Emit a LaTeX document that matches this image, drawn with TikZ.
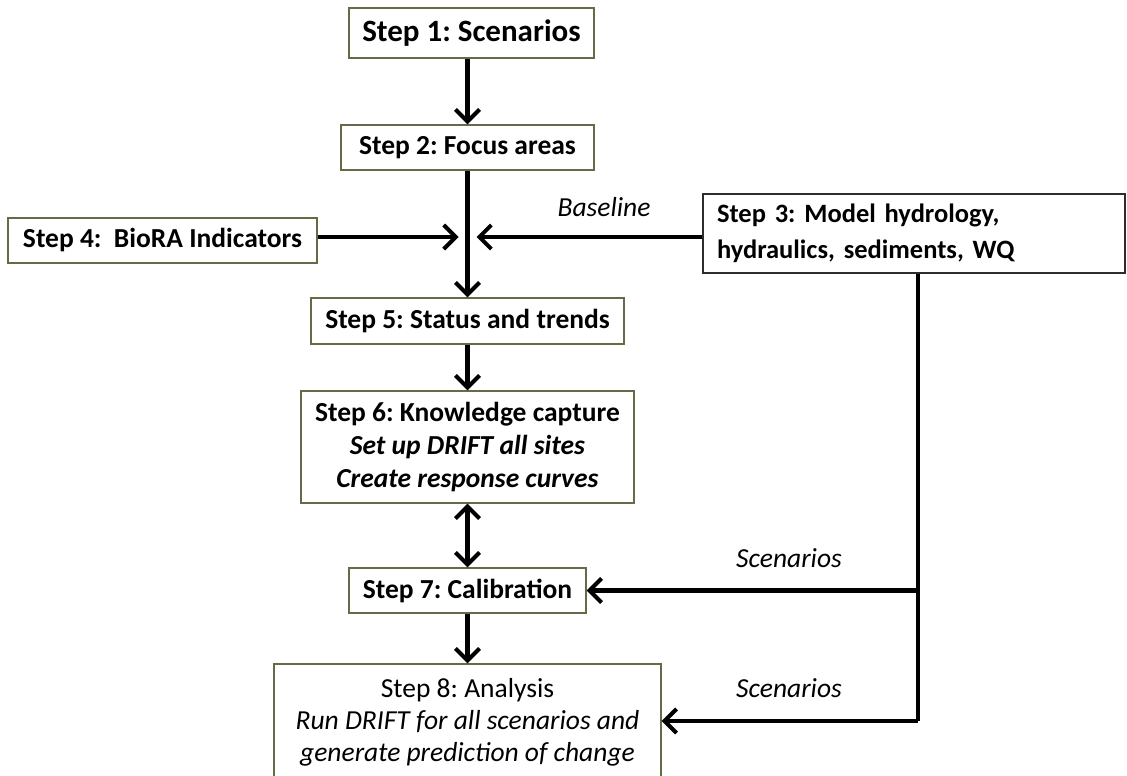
\documentclass[tikz,border=0pt]{standalone}
\usepackage{fontspec}
\setmainfont{Carlito}
\usetikzlibrary{arrows.meta}
\definecolor{boxline}{RGB}{98,108,70}
\definecolor{darkline}{RGB}{45,45,45}
\tikzset{
  stepbox/.style={draw=boxline, line width=1.4pt, fill=white, inner sep=0pt,
    align=center, font=\fontsize{27.5}{33}\selectfont},
  tip/.tip={Straight Barb[length=12pt,width=24pt,line width=4pt]},
  flow/.style={line width=4.5pt, -{tip}},
  twoway/.style={line width=4.5pt, {tip}-{tip}},
  feed/.style={line width=4.5pt, line join=miter},
  lbl/.style={font=\fontsize{27.5}{33}\selectfont\itshape, inner sep=0pt}
}
\frenchspacing
\begin{document}
\begin{tikzpicture}[x=1pt,y=-1pt]
\useasboundingbox (0,0) rectangle (1127,776);
% process boxes
\node[stepbox, font=\fontsize{31}{33}\selectfont, minimum width=245, minimum height=50] (s1) at (471.5,33) {\textbf{Step 1: Scenarios}};
\node[stepbox, minimum width=253, minimum height=45] (s2) at (467.5,147.5) {\textbf{Step 2: Focus areas}};
\node[stepbox, minimum width=309, minimum height=45] (s4) at (162.5,240.5) {\textbf{Step 4:\ \ BioRA Indicators}};
\node[stepbox, draw=darkline, font=\fontsize{26.5}{36}\selectfont, align=left, text width=394, inner xsep=14, minimum height=79] (s3) at (914,233.5)
  {\textbf{Step 3: Model hydrology,}\\\textbf{hydraulics, sediments, WQ}};
\node[stepbox, minimum width=313, minimum height=46] (s5) at (467.5,321) {\textbf{Step 5: Status and trends}};
\node[stepbox, minimum width=333, minimum height=112] (s6) at (467.5,447)
  {\textbf{Step 6: Knowledge capture}\\\textbf{\textit{Set up DRIFT all sites}}\\\textbf{\textit{Create response curves}}};
\node[stepbox, minimum width=237, minimum height=45] (s7) at (467.5,590.5) {\textbf{Step 7: Calibration}};
\node[stepbox, font=\fontsize{27.5}{32}\selectfont, minimum width=387, minimum height=116] (s8) at (467.5,722)
  {Step 8: Analysis\\\textit{Run DRIFT for all scenarios and}\\\textit{generate prediction of change}};
% junction where the inputs meet the main line
\coordinate (j) at (467.5,237);
\coordinate (c) at (918,721);
% connectors
\draw[flow] (s1.south -| s2.north) -- (s2.north);
\draw[flow] (s2.south) -- (s5.north);
\draw[flow] (s4.east |- j) -- ([xshift=-9]j);
\draw[flow] (s3.west |- j) -- ([xshift=9]j);
\draw[flow] (s5.south) -- (s6.north);
\draw[twoway] (s6.south) -- (s7.north);
\draw[flow] (s7.south) -- (s8.north);
\draw[feed] (s3.south -| c) -- (c);
\draw[flow] (c) -- (s8.east |- c);
\draw[flow] (c |- s7.east) -- (s7.east);
% connector labels
\node[lbl] (base) at (604,207) {Baseline};
\node[lbl] (sc1) at (789,558) {Scenarios};
\node[lbl] (sc2) at (789,688) {Scenarios};
\end{tikzpicture}
\end{document}
